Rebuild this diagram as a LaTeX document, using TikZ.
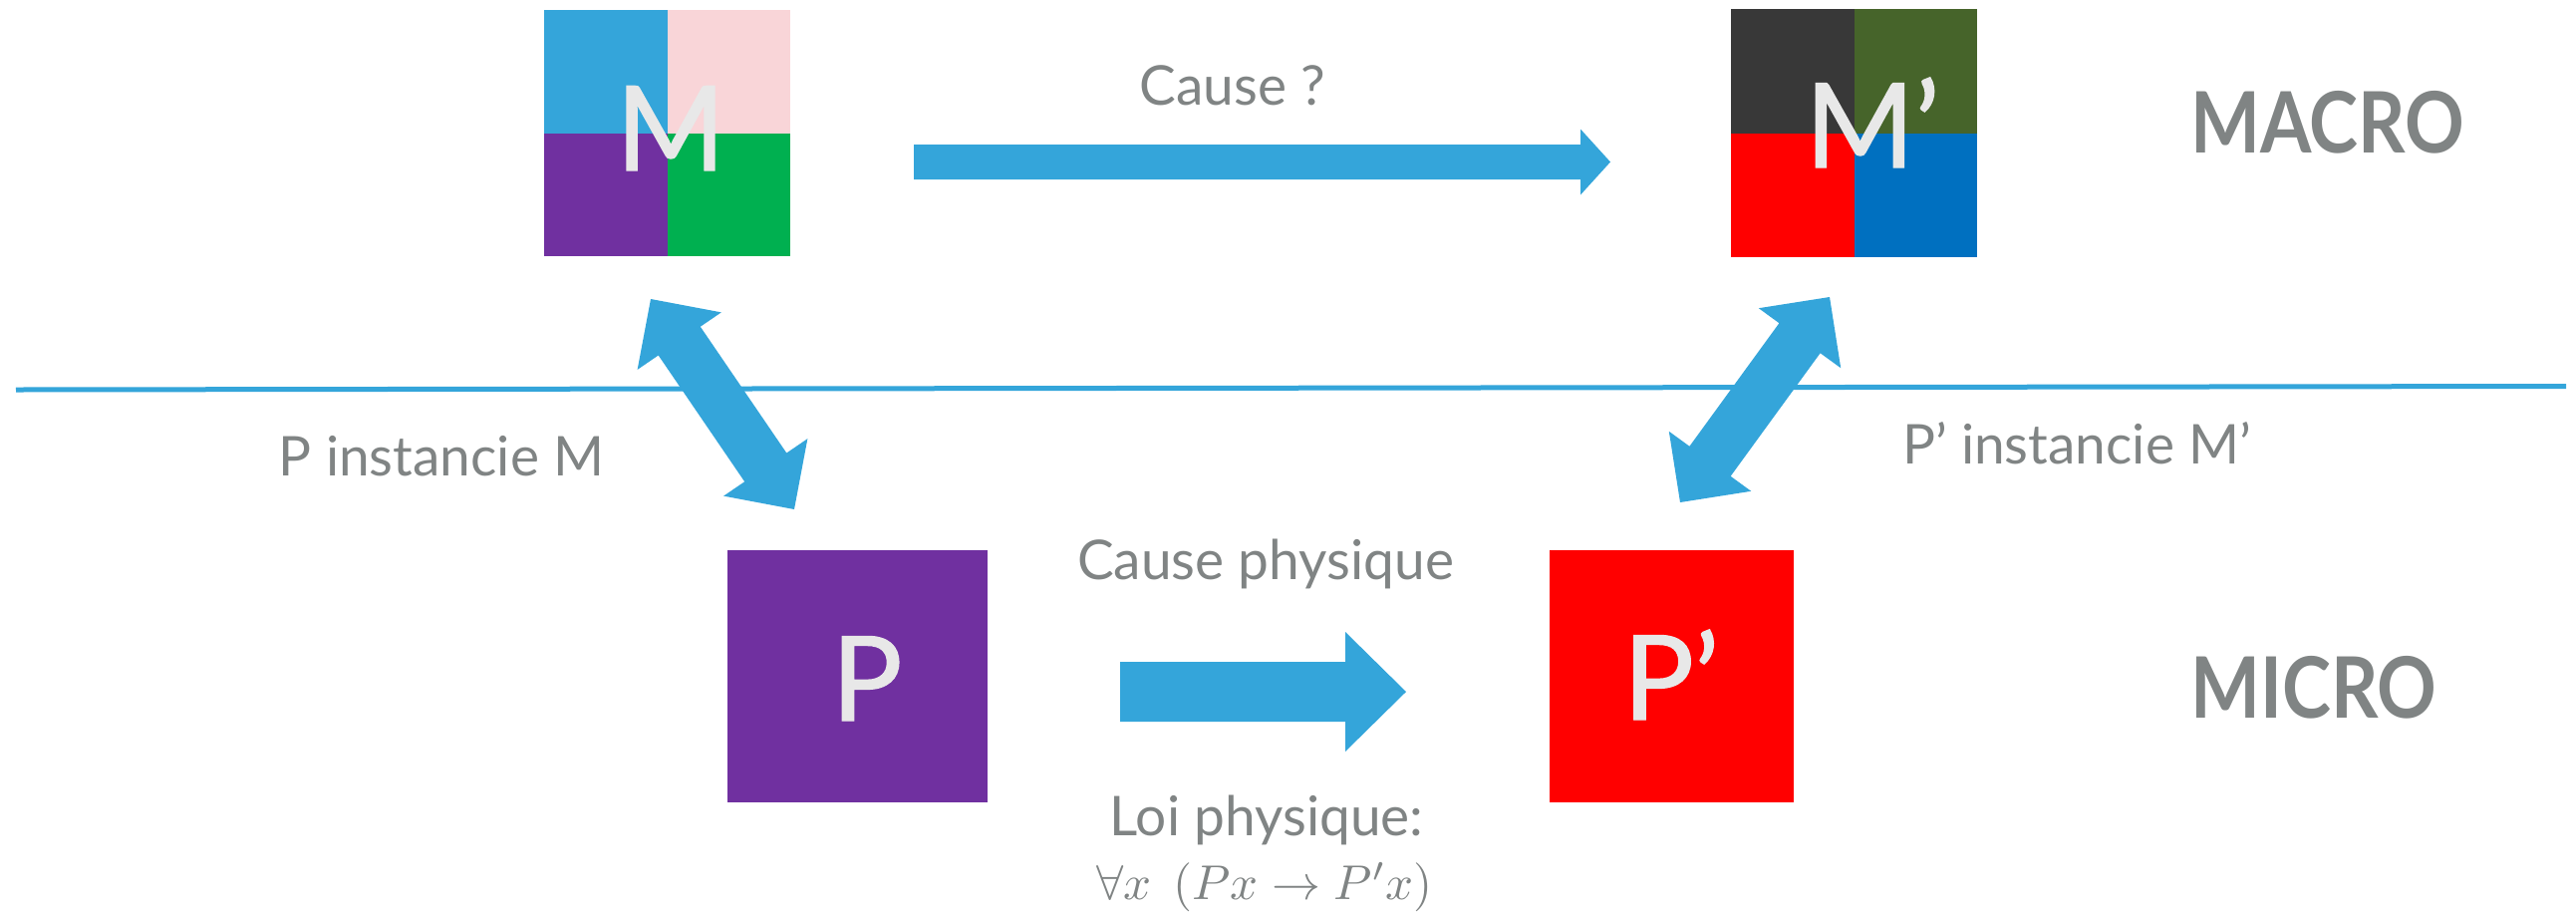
\documentclass[tikz,border=0pt]{standalone}
\usepackage{fontspec}
\setmainfont{Lato}
\newfontfamily\letterfont[FakeBold=1.2]{Lato}
\usetikzlibrary{calc}
\definecolor{arrowblue}{RGB}{52,165,218}
\definecolor{textgray}{RGB}{128,132,132}
\definecolor{lettergray}{RGB}{232,232,232}
\definecolor{mpink}{RGB}{249,213,216}
\definecolor{mpurple}{RGB}{112,48,160}
\definecolor{mgreen}{RGB}{0,176,80}
\definecolor{mdgray}{RGB}{56,56,56}
\definecolor{mdgreen}{RGB}{70,100,42}
\definecolor{mred}{RGB}{255,0,0}
\definecolor{mdblue}{RGB}{0,112,192}
% double block arrow: #1,#2 tips, #3 shaft half width, #4 head half width, #5 head length
\newcommand\dblblockarrow[5]{%
  \fill[arrowblue] (#1)
    -- ($(#1)!#5!(#2)!#4!90:(#2)$)
    -- ($(#1)!#5!(#2)!#3!90:(#2)$)
    -- ($(#2)!#5!(#1)!#3!-90:(#1)$)
    -- ($(#2)!#5!(#1)!#4!-90:(#1)$)
    -- (#2)
    -- ($(#2)!#5!(#1)!#4!90:(#1)$)
    -- ($(#2)!#5!(#1)!#3!90:(#1)$)
    -- ($(#1)!#5!(#2)!#3!-90:(#2)$)
    -- ($(#1)!#5!(#2)!#4!-90:(#2)$)
    -- cycle;}
% single block arrow from #1 to tip #2
\newcommand\sglblockarrow[5]{%
  \fill[arrowblue] ($(#1)!#3!90:(#2)$)
    -- ($(#2)!#5!(#1)!#3!-90:(#1)$)
    -- ($(#2)!#5!(#1)!#4!-90:(#1)$)
    -- (#2)
    -- ($(#2)!#5!(#1)!#4!90:(#1)$)
    -- ($(#2)!#5!(#1)!#3!90:(#1)$)
    -- ($(#1)!#3!-90:(#2)$)
    -- cycle;}
\tikzset{
  lbl/.style={text=textgray, font=\fontsize{55}{62}\selectfont, inner sep=0pt, anchor=base},
  level/.style={text=textgray, font=\fontsize{85}{92}\selectfont\bfseries, inner sep=0pt, anchor=base west},
  letter/.style={text=lettergray, font=\fontsize{118}{124}\letterfont, inner sep=0pt, anchor=base},
  sq/.style={inner sep=0pt, draw=none},
}
\begin{document}
\begin{tikzpicture}[x=1pt,y=-1pt]
\useasboundingbox (0,0) rectangle (2585,914);
% separation line
\coordinate (lineL) at (16,391);
\coordinate (lineR) at (2575,387.5);
\draw[arrowblue, line width=5pt] (lineL) -- (lineR);
% M square
\node[sq, minimum width=247pt, minimum height=247pt] (M) at (669.5,133.5) {};
\fill[arrowblue] (M.north west) rectangle (M.center);
\fill[mpink] (M.north) rectangle (M.east);
\fill[mpurple] (M.west) rectangle (M.south);
\fill[mgreen] (M.center) rectangle (M.south east);
\node[letter] (Mtxt) at (673,171) {M};
% M' square
\node[sq, minimum width=247pt, minimum height=249pt] (Mp) at (1860.5,133.5) {};
\fill[mdgray] (Mp.north west) rectangle (Mp.center);
\fill[mdgreen] (Mp.north) rectangle (Mp.east);
\fill[mred] (Mp.west) rectangle (Mp.south);
\fill[mdblue] (Mp.center) rectangle (Mp.south east);
\node[letter] (Mptxt) at (1879,168) {M’};
% P squares
\node[sq, fill=mpurple, minimum width=261pt, minimum height=253pt] (P) at (860.5,678.5) {};
\node[letter] (Ptxt) at (870,723) {P};
\node[sq, fill=mred, minimum width=245pt, minimum height=253pt] (Pp) at (1677.5,678.5) {};
\node[letter] (Pptxt) at (1677,722) {P’};
% arrows
\coordinate (topA) at (917,162.5);
\coordinate (topB) at (1616,162.5);
\sglblockarrow{topA}{topB}{17.5pt}{33pt}{30pt}
\coordinate (botA) at (1124,694);
\coordinate (botB) at (1411,694);
\sglblockarrow{botA}{botB}{30pt}{60pt}{61pt}
\coordinate (lA) at (653,300);
\coordinate (lB) at (797,511);
\dblblockarrow{lA}{lB}{25.5pt}{51pt}{51pt}
\coordinate (rA) at (1836,298);
\coordinate (rB) at (1686,504);
\dblblockarrow{rA}{rB}{25.5pt}{51pt}{51pt}
% labels
\node[lbl] (cause) at (1237,105) {Cause ?};
\node[lbl] (inst1) at (443,477) {P instancie M};
\node[lbl] (inst2) at (2084,465) {P’ instancie M’};
\node[lbl] (causephys) at (1270,581) {Cause physique};
\node[lbl] (loi) at (1271,838) {Loi physique:};
\node[lbl, font=\fontsize{10}{12}\selectfont] (law) at (1269,902) {\scalebox{4.9}{$\forall x\;\,(Px \rightarrow P'x)$}};
\node[level] (macro) at (2198,153) {\scalebox{0.87}[1]{MACRO}};
\node[level] (micro) at (2198,720) {\scalebox{0.87}[1]{MICRO}};
\end{tikzpicture}
\end{document}
